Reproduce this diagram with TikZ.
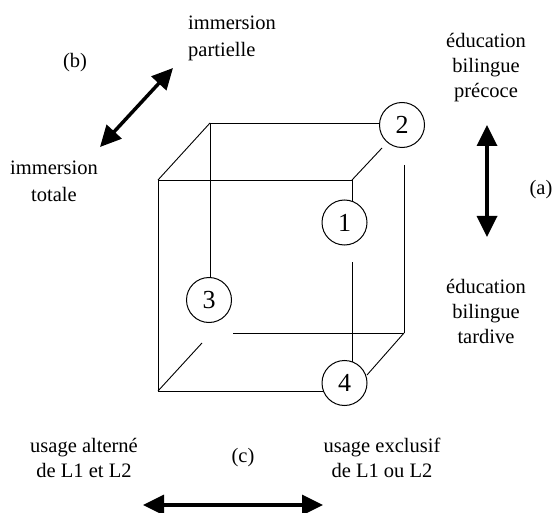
\documentclass[tikz,border=0pt]{standalone}
\usepackage{fontspec}
\setmainfont{Liberation Serif}
\usetikzlibrary{arrows.meta}
\tikzset{
  lbl/.style={inner sep=0pt, anchor=base, font=\fontsize{20.5pt}{25pt}\selectfont},
  num/.style={circle, draw, line width=1pt, minimum size=45pt, inner sep=0pt, font=\fontsize{26pt}{30pt}\selectfont},
  edge/.style={line width=0.9pt},
  dbl/.style={line width=3.5pt, {Triangle[length=21pt,width=20pt]}-{Triangle[length=21pt,width=20pt]}}
}
\begin{document}
\begin{tikzpicture}[x=1pt,y=-1pt]
\useasboundingbox (0,0) rectangle (554,513);
% circles
\node[num] (c1) at (344.5,222.5) {1};
\node[num] (c2) at (402,125) {2};
\node[num] (c3) at (209,300) {3};
\node[num] (c4) at (344.5,383) {4};
% cube corners
\coordinate (fTL) at (158,180);
\coordinate (fTR) at (352,180);
\coordinate (fBL) at (158,391);
\coordinate (bTL) at (210,123);
\coordinate (bBR) at (404,333);
% cube edges (with gaps as in the drawing)
\draw[edge] (fTL) -- (fTR);
\draw[edge] (fTL) -- (fBL);
\draw[edge] (fBL) -- (323.5,391);
\draw[edge] (fTR) -- (352,201.5);
\draw[edge] (352,262) -- (352,362);
\draw[edge] (fTL) -- (bTL);
\draw[edge] (bTL) -- (210,277.5);
\draw[edge] (bTL) -- (380,123);
\draw[edge] (fTR) -- (382,148);
\draw[edge] (404,165) -- (bBR);
\draw[edge] (233,333) -- (bBR);
\draw[edge] (bBR) -- (367,375);
\draw[edge] (fBL) -- (202,343);
% arrows
\coordinate (bA) at (100,147);
\coordinate (bB) at (173,68);
\coordinate (aA) at (487,125);
\coordinate (aB) at (487,237);
\coordinate (cA) at (143,505);
\coordinate (cB) at (323,505);
\draw[dbl] (bA) -- (bB);
\draw[dbl] (aA) -- (aB);
\draw[dbl] (cA) -- (cB);
% labels
\node[lbl] (lb) at (75,68) {(b)};
\node[lbl, anchor=base west] (ip1) at (188,30) {immersion};
\node[lbl, anchor=base west] (ip2) at (188,57) {partielle};
\node[lbl] (it1) at (54,175) {immersion};
\node[lbl] (it2) at (54,202) {totale};
\node[lbl] (ep1) at (486,48) {éducation};
\node[lbl] (ep2) at (486,73) {bilingue};
\node[lbl] (ep3) at (486,98) {précoce};
\node[lbl] (la) at (541,195) {(a)};
\node[lbl] (et1) at (486,293) {éducation};
\node[lbl] (et2) at (486,318) {bilingue};
\node[lbl] (et3) at (486,343) {tardive};
\node[lbl] (ua1) at (84,452) {usage alterné};
\node[lbl] (ua2) at (84,477) {de L1 et L2};
\node[lbl] (lc) at (243,462) {(c)};
\node[lbl] (ue1) at (382,452) {usage exclusif};
\node[lbl] (ue2) at (382,477) {de L1 ou L2};
\end{tikzpicture}
\end{document}
